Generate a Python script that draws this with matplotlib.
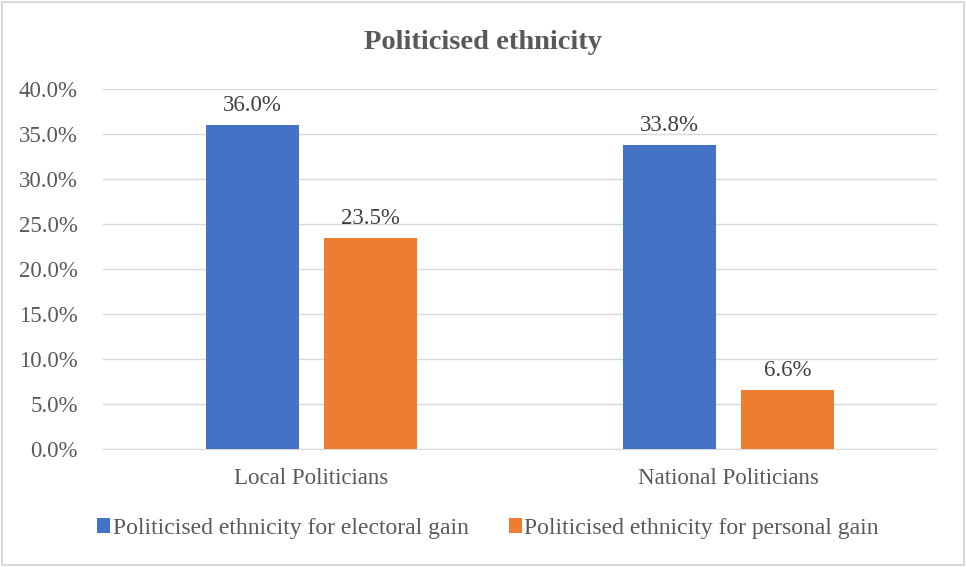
import numpy as np
import matplotlib
matplotlib.use("Agg")
import matplotlib.pyplot as plt
from matplotlib.patches import Rectangle

categories = ["Local Politicians", "National Politicians"]
electoral = [36.0, 33.8]
personal = [23.5, 6.6]
series_names = ["Politicised ethnicity for electoral gain",
                "Politicised ethnicity for personal gain"]
yticks = [0, 5, 10, 15, 20, 25, 30, 35, 40]

plt.rcParams['font.family'] = ['Liberation Serif', 'DejaVu Serif']
grey = '#595959'
fs = 16.5

fig = plt.figure(figsize=(9.66, 5.67), dpi=100)
ax = fig.add_axes([0.1066, 0.2081, 0.8634, 0.6349])

x = np.arange(len(categories))
w = 0.223
off = 0.142
b1 = ax.bar(x - off, electoral, w, color='#4472C4', label=series_names[0], zorder=3)
b2 = ax.bar(x + off, personal, w, color='#ED7D31', label=series_names[1], zorder=3)

for bars in (b1, b2):
    for r in bars:
        ax.text(r.get_x() + r.get_width() / 2, r.get_height() + 1.0,
                "%.1f%%" % r.get_height(), ha='center', va='bottom',
                fontsize=fs, color='#404040')

ax.set_xlim(-0.5, 1.5)
ax.set_ylim(0, 40)
ax.set_yticks(yticks)
ax.set_yticklabels(["%.1f%%" % v for v in yticks], fontsize=fs, color=grey)
ax.set_xticks(x)
ax.set_xticklabels(categories, fontsize=fs, color=grey)
ax.tick_params(axis='x', length=0, pad=14)
ax.tick_params(axis='y', length=0, pad=18)
ax.grid(axis='y', color='#d9d9d9', linewidth=1, zorder=0)
for s in ['top', 'right', 'left']:
    ax.spines[s].set_visible(False)
ax.spines['bottom'].set_color('#d9d9d9')

fig.text(0.5, 0.925, "Politicised ethnicity", ha='center', va='center',
         fontsize=20.5, fontweight='bold', color=grey)

fig.legend(loc='center', bbox_to_anchor=(0.505, 0.068), ncol=2, frameon=False,
           fontsize=17, handlelength=0.55, handleheight=0.55, handletextpad=0.12,
           columnspacing=1.7, labelcolor=grey)

fig.patches.append(Rectangle((0.002, 0.003), 0.996, 0.994, transform=fig.transFigure,
                             fill=False, edgecolor='#d9d9d9', linewidth=1.5))

fig.savefig("out.png", dpi=100)
